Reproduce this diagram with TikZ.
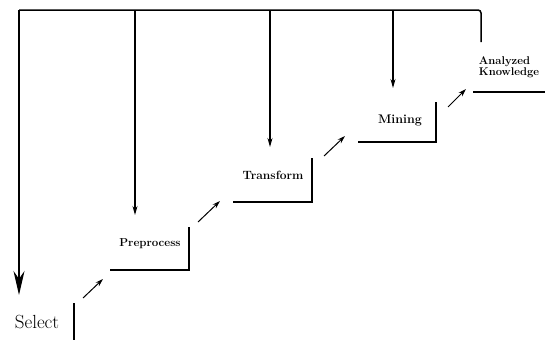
\documentclass[tikz,border=0pt]{standalone}
\usetikzlibrary{arrows.meta}
\begin{document}
\begin{tikzpicture}[x=1pt,y=-1pt,
  lbl/.style={inner sep=0pt,font=\fontsize{11.5}{12}\selectfont\bfseries},
  stepline/.style={line width=1.6pt},
  feed/.style={line width=1.1pt,-{Stealth[length=9pt,width=5pt]}},
  bigfeed/.style={line width=1.3pt,-{Stealth[length=24pt,width=11pt]}},
  adv/.style={line width=1pt,-{Stealth[length=8pt,width=5pt]}}]
\useasboundingbox (0,0) rectangle (545,340);
% labels
\node[inner sep=0pt,font=\fontsize{19}{20}\selectfont] (sel) at (37,322) {Select};
\node[lbl] (pre) at (150,244) {Preprocess};
\node[lbl,font=\fontsize{12}{13}\selectfont\bfseries] (tra) at (273,175) {Transform};
\node[lbl,font=\fontsize{12.5}{13}\selectfont\bfseries] (min) at (400,120) {Mining};
\node[lbl,align=left,font=\fontsize{11.2}{11.5}\selectfont\bfseries] (ana) at (509,67) {Analyzed\\Knowledge};
% step corners
\coordinate (s1) at (74,303); \coordinate (s2) at (74,340);
\coordinate (p1) at (110,270); \coordinate (p2) at (189,270); \coordinate (p3) at (189,227);
\coordinate (t1) at (233,202); \coordinate (t2) at (312,202); \coordinate (t3) at (312,158);
\coordinate (m1) at (358,142); \coordinate (m2) at (436,142); \coordinate (m3) at (436,102);
\coordinate (a1) at (473,92); \coordinate (a2) at (545,92);
\draw[stepline] (s1) -- (s2);
\draw[stepline] (p1) -- (p2) -- (p3);
\draw[stepline] (t1) -- (t2) -- (t3);
\draw[stepline] (m1) -- (m2) -- (m3);
\draw[stepline] (a1) -- (a2);
% forward arrows
\coordinate (sa) at (83,298); \coordinate (sb) at (103,279);
\coordinate (pa) at (198,222); \coordinate (pb) at (220,201);
\coordinate (ta) at (324,156); \coordinate (tb) at (345,136);
\coordinate (ma) at (448,107); \coordinate (mb) at (466,89);
\draw[adv] (sa) -- (sb);
\draw[adv] (pa) -- (pb);
\draw[adv] (ta) -- (tb);
\draw[adv] (ma) -- (mb);
% feedback
\coordinate (fr) at (481,42); \coordinate (fc) at (481,10);
\coordinate (f0) at (19,10); \coordinate (f1) at (135,10); \coordinate (f2) at (270,10); \coordinate (f3) at (393,10);
\coordinate (e0) at (19,295); \coordinate (e1) at (135,215); \coordinate (e2) at (270,147); \coordinate (e3) at (393,88);
\draw[line width=1.5pt,rounded corners=3pt] (fr) -- (fc) -- (f0);
\draw[bigfeed] (f0) -- (e0);
\draw[feed] (f1) -- (e1);
\draw[feed] (f2) -- (e2);
\draw[feed] (f3) -- (e3);
\end{tikzpicture}
\end{document}
